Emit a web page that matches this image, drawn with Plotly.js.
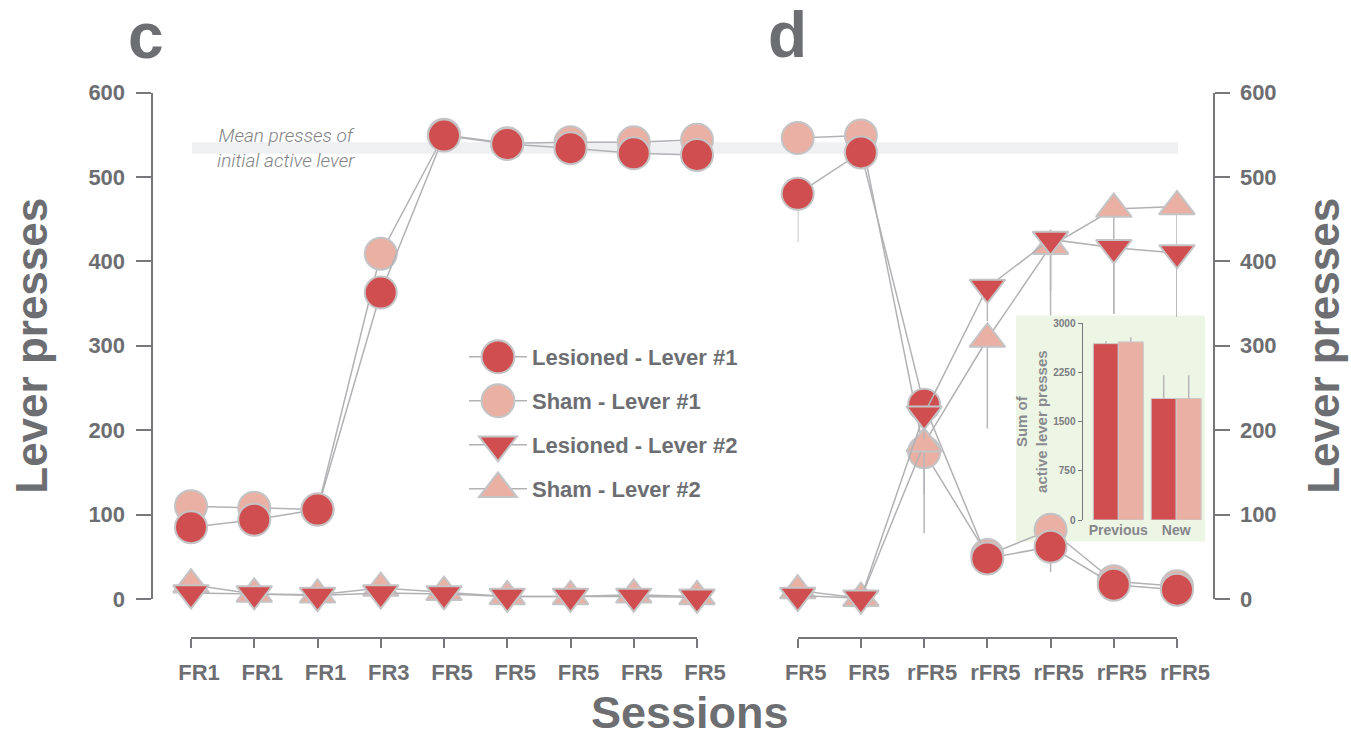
<!DOCTYPE html>
<html>
<head>
<meta charset="utf-8">
<script src="https://cdn.plot.ly/plotly-3.0.1.min.js"></script>
<style>
  html, body { margin: 0; padding: 0; background: #ffffff; }
  #chart { width: 1351px; height: 740px; }
</style>
</head>
<body>
<div id="chart"></div>
<script>
// ---- session labels ----
const sessionsC = ['FR1', 'FR1', 'FR1', 'FR3', 'FR5', 'FR5', 'FR5', 'FR5', 'FR5'];
const sessionsD = ['FR5', 'FR5', 'rFR5', 'rFR5', 'rFR5', 'rFR5', 'rFR5'];

// ---- panel c: acquisition (mean lever presses per session) ----
const lesionedL1_c = [85, 94, 106, 363, 549, 539, 534, 528, 526];
const shamL1_c     = [110, 108, 106, 409, 550, 540, 541, 541, 544];
const lesionedL2_c = [7, 6, 4, 7, 6, 3, 3, 3, 2];
const shamL2_c     = [17, 6, 5, 13, 8, 3, 3, 5, 3];
// lower error (SEM) per session
const lesionedL1_c_err = [8, 8, 8, 12, 10, 8, 8, 8, 8];
const shamL1_c_err     = [8, 8, 8, 12, 10, 8, 8, 8, 8];
const lesionedL2_c_err = [3, 2, 2, 3, 3, 1, 1, 2, 1];
const shamL2_c_err     = [5, 2, 2, 4, 3, 1, 1, 2, 1];

// ---- panel d: lever reversal ----
const lesionedL1_d = [480, 529, 230, 48, 62, 17, 11];
const shamL1_d     = [546, 549, 174, 52, 82, 21, 15];
const lesionedL2_d = [4, 1, 219, 369, 426, 416, 410];
const shamL2_d     = [10, 1, 184, 308, 418, 462, 465];
const lesionedL1_d_err = [57, 10, 30, 8, 30, 6, 5];
const shamL1_d_err     = [8, 8, 96, 8, 20, 6, 5];
const lesionedL2_d_err = [3, 1, 30, 40, 60, 78, 76];
const shamL2_d_err     = [5, 1, 60, 106, 82, 124, 131];

// mean presses of the initially active lever (band limits)
const meanBand = [527.5, 541];

// ---- inset: summed active lever presses ----
const insetGroups = ['Previous', 'New'];
const insetLesioned = [2690, 1853];
const insetSham = [2716, 1853];
const insetLesionedErr = [35, 355];
const insetShamErr = [70, 355];
const insetTicks = [0, 750, 1500, 2250, 3000];

// ---- geometry helpers (pixel -> paper) ----
const W = 1351, H = 740;
const fx = p => p / W;
const fy = p => 1 - p / H;

const FONT = 'Liberation Sans, Arial, Helvetica, sans-serif';
const COL = {
  lesioned: '#d04e4f',
  sham: '#e9b0a3',
  rim: '#c4c4c6',
  link: '#b2b2b5',
  whisker: '#b7b7ba',
  ink: '#6d6e72',
  axis: '#77787c'
};

const idxC = sessionsC.map((_, i) => i);
const idxD = sessionsD.map((_, i) => i);

function track(name, xa, ya, xs, ys, errDown, color, symbol, showlegend, rank) {
  return {
    type: 'scatter',
    mode: 'lines+markers',
    name: name,
    xaxis: xa,
    yaxis: ya,
    x: xs,
    y: ys,
    cliponaxis: false,
    line: { color: COL.link, width: 1.5 },
    marker: {
      color: color,
      symbol: symbol,
      size: symbol === 'circle' ? 32 : 31,
      line: { color: COL.rim, width: 2 }
    },
    error_y: {
      type: 'data',
      symmetric: false,
      array: ys.map(() => 0),
      arrayminus: errDown,
      color: COL.whisker,
      thickness: 1.5,
      width: 0
    },
    showlegend: showlegend,
    legendgroup: name,
    legendrank: rank,
    hoverinfo: 'skip'
  };
}

const names = {
  lesL1: 'Lesioned - Lever #1',
  shamL1: 'Sham - Lever #1',
  lesL2: 'Lesioned - Lever #2',
  shamL2: 'Sham - Lever #2'
};

const traces = [
  // panel c
  track(names.shamL1, 'x', 'y', idxC, shamL1_c, shamL1_c_err, COL.sham, 'circle', true, 2),
  track(names.lesL1, 'x', 'y', idxC, lesionedL1_c, lesionedL1_c_err, COL.lesioned, 'circle', true, 1),
  track(names.shamL2, 'x', 'y', idxC, shamL2_c, shamL2_c_err, COL.sham, 'triangle-up', true, 4),
  track(names.lesL2, 'x', 'y', idxC, lesionedL2_c, lesionedL2_c_err, COL.lesioned, 'triangle-down', true, 3),
  // panel d
  track(names.shamL1, 'x2', 'y2', idxD, shamL1_d, shamL1_d_err, COL.sham, 'circle', false, 2),
  track(names.lesL1, 'x2', 'y2', idxD, lesionedL1_d, lesionedL1_d_err, COL.lesioned, 'circle', false, 1),
  track(names.shamL2, 'x2', 'y2', idxD, shamL2_d, shamL2_d_err, COL.sham, 'triangle-up', false, 4),
  track(names.lesL2, 'x2', 'y2', idxD, lesionedL2_d, lesionedL2_d_err, COL.lesioned, 'triangle-down', false, 3),
  // inset bars
  {
    type: 'bar', x: insetGroups, y: insetLesioned, xaxis: 'x3', yaxis: 'y3',
    marker: { color: COL.lesioned, line: { color: '#c8c8ca', width: 1 } },
    error_y: { type: 'data', symmetric: false, array: insetLesionedErr, arrayminus: [0, 0],
               color: COL.whisker, thickness: 1.5, width: 0 },
    showlegend: false, hoverinfo: 'skip'
  },
  {
    type: 'bar', x: insetGroups, y: insetSham, xaxis: 'x3', yaxis: 'y3',
    marker: { color: COL.sham, line: { color: '#c8c8ca', width: 1 } },
    error_y: { type: 'data', symmetric: false, array: insetShamErr, arrayminus: [0, 0],
               color: COL.whisker, thickness: 1.5, width: 0 },
    showlegend: false, hoverinfo: 'skip'
  }
];

const tickFont = { family: FONT, size: 22, weight: 'bold', color: COL.ink };
const titleFont = { family: FONT, size: 44, weight: 'bold', color: COL.ink };
const baseAxis = {
  showline: true, linecolor: COL.axis, linewidth: 2,
  ticks: 'outside', tickcolor: COL.axis, tickwidth: 2,
  showgrid: false, zeroline: false, tickfont: tickFont, fixedrange: true
};
const yDomain = [fy(599), fy(92.5)];

const layout = {
  width: W, height: H,
  margin: { l: 0, r: 0, t: 0, b: 0 },
  paper_bgcolor: '#ffffff',
  plot_bgcolor: 'rgba(0,0,0,0)',
  barmode: 'group',
  bargap: 0.136,
  bargroupgap: 0,
  xaxis: Object.assign({}, baseAxis, {
    domain: [fx(191), fx(697)], range: [0, 8],
    anchor: 'free', position: fy(638),
    ticklen: 9, tickvals: idxC, ticktext: sessionsC,
    ticklabelshift: 8, ticklabelstandoff: 6
  }),
  yaxis: Object.assign({}, baseAxis, {
    domain: yDomain, range: [0, 600], dtick: 100,
    anchor: 'free', position: fx(151.5), side: 'left',
    ticklen: 15, ticklabelstandoff: 6,
    title: { text: 'Lever presses', font: titleFont, standoff: 26 }
  }),
  xaxis2: Object.assign({}, baseAxis, {
    domain: [fx(797.7), fx(1177)], range: [0, 6],
    anchor: 'free', position: fy(638),
    ticklen: 9, tickvals: idxD, ticktext: sessionsD,
    ticklabelshift: 8, ticklabelstandoff: 6
  }),
  yaxis2: Object.assign({}, baseAxis, {
    domain: yDomain, range: [0, 600], dtick: 100,
    anchor: 'free', position: fx(1213.5), side: 'right',
    ticklen: 15, ticklabelstandoff: 6,
    title: { text: 'Lever presses', font: titleFont, standoff: 32 }
  }),
  xaxis3: {
    domain: [fx(1083), fx(1206)], range: [-0.61, 1.515],
    anchor: 'y3', type: 'category',
    showline: false, ticks: '', showgrid: false, zeroline: false, fixedrange: true,
    tickfont: { family: FONT, size: 14, weight: 'bold', color: '#85868a' },
    ticklabelstandoff: 0
  },
  yaxis3: {
    domain: [fy(520), fy(323.3)], range: [0, 3000],
    anchor: 'x3', showline: true, linecolor: COL.axis, linewidth: 1.5,
    ticks: 'outside', ticklen: 4, tickwidth: 1, tickcolor: COL.axis,
    tickvals: insetTicks, showgrid: false, zeroline: false, fixedrange: true,
    tickfont: { family: FONT, size: 10, weight: 'bold', color: '#7a7b7f' },
    title: {
      text: 'Sum of<br>active lever presses',
      font: { family: FONT, size: 15, weight: 'bold', color: '#8a8b8f' },
      standoff: 2
    }
  },
  shapes: [
    // band marking the mean presses of the initially active lever
    {
      type: 'rect', xref: 'paper', yref: 'y',
      x0: fx(192), x1: fx(1178), y0: meanBand[0], y1: meanBand[1],
      fillcolor: '#eff0f2', line: { width: 0 }, layer: 'below'
    },
    // inset panel background
    {
      type: 'rect', xref: 'paper', yref: 'paper',
      x0: fx(1016), x1: fx(1205), y0: fy(541.5), y1: fy(315.5),
      fillcolor: '#edf5e5', line: { width: 0 }, layer: 'below'
    }
  ],
  annotations: [
    { text: 'c', xref: 'paper', yref: 'paper', x: fx(146), y: fy(36),
      xanchor: 'center', yanchor: 'middle', showarrow: false,
      font: { family: FONT, size: 64, weight: 'bold', color: COL.ink } },
    { text: 'd', xref: 'paper', yref: 'paper', x: fx(788), y: fy(35),
      xanchor: 'center', yanchor: 'middle', showarrow: false,
      font: { family: FONT, size: 64, weight: 'bold', color: COL.ink } },
    { text: 'Sessions', xref: 'paper', yref: 'paper', x: fx(690), y: fy(739.5),
      xanchor: 'center', yanchor: 'bottom', showarrow: false,
      font: { family: FONT, size: 45, weight: 'bold', color: COL.ink } },
    { text: 'Mean presses of<br>initial active lever', xref: 'paper', yref: 'paper',
      x: fx(286), y: fy(148), xanchor: 'center', yanchor: 'middle', showarrow: false,
      align: 'center',
      font: { family: 'Roboto, Liberation Sans, sans-serif', size: 19, weight: 300,
              style: 'italic', color: '#828286' } }
  ],
  showlegend: true,
  legend: {
    x: fx(464), y: fy(336), xanchor: 'left', yanchor: 'top',
    bgcolor: 'rgba(0,0,0,0)', borderwidth: 0,
    font: { family: FONT, size: 22, weight: 'bold', color: COL.ink },
    itemwidth: 58, tracegroupgap: 12.4, traceorder: 'grouped'
  }
};

Plotly.newPlot('chart', traces, layout, { displayModeBar: false, staticPlot: true }).then(gd => {
  // enlarge legend symbols to the marker size used in the plot
  gd.querySelectorAll('.legend .legendpoints path.scatterpts').forEach(p => {
    const t = p.getAttribute('transform') || '';
    p.setAttribute('transform', t + ' scale(2.05)');
    p.style.strokeWidth = '1px';
  });
});
</script>
</body>
</html>
